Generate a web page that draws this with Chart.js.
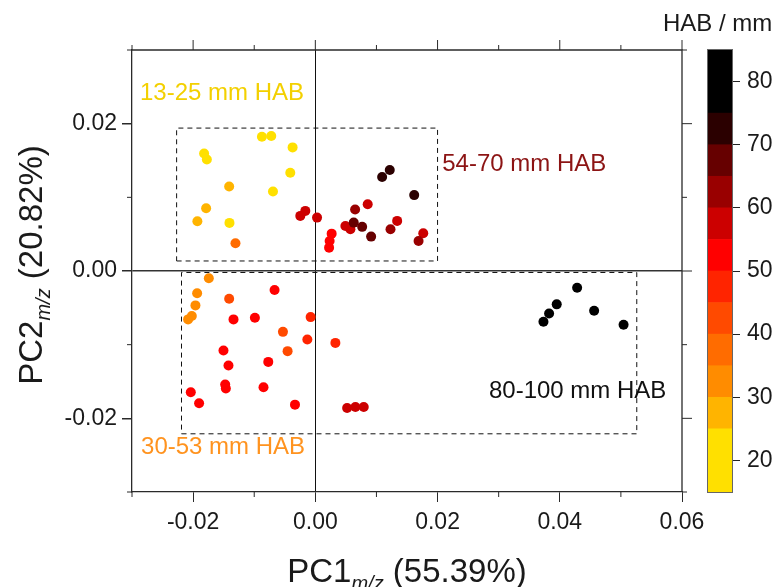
<!DOCTYPE html>
<html>
<head>
<meta charset="utf-8">
<script src="https://cdn.jsdelivr.net/npm/chart.js@4.4.1/dist/chart.umd.min.js"></script>
<style>
    html, body { margin: 0; padding: 0; background: #fff; }
    #wrap { position: relative; width: 778px; height: 587px; }
    canvas { position: absolute; left: 0; top: 0; }
</style>
</head>
<body>
<div id="wrap">
    <canvas id="pca-chart" width="778" height="587"></canvas>
    <canvas id="hab-bar" width="778" height="587"></canvas>
</div>
<script>
// PCA scores
const pc1 = [
    -0.00874, -0.00721, -0.00372, -0.0182, -0.01775, -0.0041, -0.00693, -0.01405,
    -0.0141, -0.01787, -0.0193, -0.01307,
    -0.00164, -0.00246, 0.00028, 0.00267, 0.00234, 0.00225, 0.00492, 0.00574,
    0.00651, 0.00857, 0.00628, 0.00766, 0.00913, 0.01093, 0.01218, 0.01618,
    0.01339, 0.0123, 0.01766, 0.01689,
    -0.01743, -0.01934, -0.01962, -0.02021, -0.02082, -0.0141, -0.00667, -0.01339,
    -0.00989, -0.00077, -0.0053, -0.00131, 0.00328, -0.01503, -0.00454, -0.01421,
    -0.0077, -0.01475, -0.01464, -0.00848, -0.02038, -0.01902, -0.00333,
    0.0052, 0.00656, 0.00792,
    0.04284, 0.0395, 0.03825, 0.03733, 0.04562, 0.05044
];
const pc2 = [
    0.01823, 0.01833, 0.01678, 0.01596, 0.01514, 0.01333, 0.01079, 0.00653,
    0.01147, 0.00853, 0.00676, 0.00377,
    0.00816, 0.00748, 0.00725, 0.00507, 0.00408, 0.00317, 0.00612, 0.00567,
    0.00834, 0.00907, 0.00657, 0.00599, 0.00467, 0.01275, 0.0137, 0.0103,
    0.0068, 0.00567, 0.00513, 0.00408,
    -0.00099, -0.00303, -0.00467, -0.00612, -0.00657, -0.00377, -0.00259, -0.00657,
    -0.00635, -0.00626, -0.00826, -0.00929, -0.00976, -0.01079, -0.01088, -0.01283,
    -0.01234, -0.01541, -0.01596, -0.01578, -0.01646, -0.01796, -0.01814,
    -0.0186, -0.01846, -0.01846,
    -0.00227, -0.00453, -0.00576, -0.0069, -0.0054, -0.0073
];
const hab = [
    20, 20, 20, 20, 20, 20, 20, 22,
    27, 27, 27, 37,
    57, 57, 57, 52, 52, 52, 57, 57,
    62, 57, 67, 67, 67, 72, 72, 72,
    57, 62, 57, 62,
    32, 34, 32, 32, 32, 42, 52, 52,
    52, 47, 42, 47, 47, 52, 42, 52,
    52, 52, 52, 52, 52, 52, 52,
    57, 57, 57,
    80, 85, 90, 90, 95, 100
];

const xTicks = [-0.02, 0, 0.02, 0.04, 0.06];
const yTicks = [-0.02, 0, 0.02];
const xMinor = [-0.03, -0.01, 0.01, 0.03, 0.05];
const yMinor = [-0.03, -0.01, 0.01, 0.03];

// dashed group boxes, in score units
const topBoxX = [-0.0227, 0.0200];
const topBoxY = [0.00136, 0.0194];
const bottomBoxX = [-0.0219, 0.0526];
const bottomBoxY = [-0.0221, -0.0002];

const groupNames = ['13-25 mm HAB', '54-70 mm HAB', '30-53 mm HAB', '80-100 mm HAB'];
const groupX = [-0.02869, 0.02077, -0.02852, 0.02841];
const groupY = [0.02408, 0.01452, -0.02395, -0.01629];

// colour bar bins (mm)
const bandLo = [15, 25, 30, 35, 40, 45, 50, 55, 60, 65, 70, 75];
const bandHi = [25, 30, 35, 40, 45, 50, 55, 60, 65, 70, 75, 85];
const cbTicks = [20, 30, 40, 50, 60, 70, 80];

const bandColors = ['#ffe000', '#ffb400', '#ff8c00', '#ff6c00', '#ff4a00', '#ff2400',
    '#ff0000', '#cc0000', '#990000', '#660000', '#2b0000', '#000000'];
const groupColors = ['#f3d000', '#8c1414', '#ff931f', '#111111'];

const FONT = 'Liberation Sans, Arial, sans-serif';
const INK = '#1a1a1a';
const FRAME = '#2a2a2a';

const habColor = v => {
    const i = bandHi.findIndex(h => v < h);
    return bandColors[i === -1 ? bandColors.length - 1 : i];
};

const rectDataset = (bx, by) => ({
    data: [
        { x: bx[0], y: by[0] }, { x: bx[1], y: by[0] },
        { x: bx[1], y: by[1] }, { x: bx[0], y: by[1] }, { x: bx[0], y: by[0] }
    ],
    showLine: true,
    borderColor: '#111',
    borderWidth: 1,
    borderDash: [5, 4],
    pointRadius: 0,
    fill: false
});

// draws "main" + italic subscript + "rest", centred on cx
const drawSubTitle = (ctx, main, sub, rest, cx, baseY, size) => {
    const big = `${size}px ${FONT}`;
    const small = `italic ${Math.round(size * 0.6)}px ${FONT}`;
    ctx.font = big;
    const w1 = ctx.measureText(main).width;
    const w3 = ctx.measureText(rest).width;
    ctx.font = small;
    const w2 = ctx.measureText(sub).width;
    let x = cx - (w1 + w2 + w3) / 2;
    ctx.textAlign = 'left';
    ctx.textBaseline = 'alphabetic';
    ctx.fillStyle = INK;
    ctx.font = big;
    ctx.fillText(main, x, baseY);
    x += w1;
    ctx.font = small;
    ctx.fillText(sub, x, baseY + size * 0.25);
    x += w2;
    ctx.font = big;
    ctx.fillText(rest, x, baseY);
};

const framePlugin = {
    id: 'frame',
    afterDraw(chart) {
        const { ctx, chartArea: a, scales: { x, y } } = chart;
        ctx.save();
        ctx.strokeStyle = FRAME;
        ctx.lineWidth = 1.3;
        ctx.beginPath();
        ctx.moveTo(a.left, a.top); ctx.lineTo(a.right, a.top); ctx.lineTo(a.right, a.bottom);
        ctx.stroke();

        ctx.lineWidth = 1;
        ctx.beginPath();
        xTicks.forEach(v => {
            const px = x.getPixelForValue(v);
            ctx.moveTo(px, a.top); ctx.lineTo(px, a.top - 10);
        });
        yTicks.forEach(v => {
            const py = y.getPixelForValue(v);
            ctx.moveTo(a.right, py); ctx.lineTo(a.right + 10, py);
        });
        xMinor.forEach(v => {
            const px = x.getPixelForValue(v);
            ctx.moveTo(px, a.bottom); ctx.lineTo(px, a.bottom + 5);
            ctx.moveTo(px, a.top); ctx.lineTo(px, a.top - 5);
        });
        yMinor.forEach(v => {
            const py = y.getPixelForValue(v);
            ctx.moveTo(a.left, py); ctx.lineTo(a.left - 5, py);
            ctx.moveTo(a.right, py); ctx.lineTo(a.right + 5, py);
        });
        ctx.stroke();

        // group labels
        ctx.font = `24px ${FONT}`;
        ctx.textAlign = 'left';
        ctx.textBaseline = 'middle';
        groupNames.forEach((t, i) => {
            ctx.fillStyle = groupColors[i];
            ctx.fillText(t, x.getPixelForValue(groupX[i]), y.getPixelForValue(groupY[i]));
        });

        // axis titles
        drawSubTitle(ctx, 'PC1', 'm/z', ' (55.39%)', (a.left + a.right) / 2, 582, 33);
        ctx.translate(42, 265);
        ctx.rotate(-Math.PI / 2);
        drawSubTitle(ctx, 'PC2', 'm/z', ' (20.82%)', 0, 0, 33);
        ctx.restore();
    }
};

new Chart(document.getElementById('pca-chart'), {
    type: 'scatter',
    data: {
        datasets: [
            {
                data: pc1.map((v, i) => ({ x: v, y: pc2[i] })),
                backgroundColor: hab.map(habColor),
                pointRadius: 5,
                pointHoverRadius: 5,
                pointBorderWidth: 0
            },
            rectDataset(topBoxX, topBoxY),
            rectDataset(bottomBoxX, bottomBoxY)
        ]
    },
    options: {
        responsive: false,
        animation: false,
        events: [],
        layout: { padding: { top: 50, right: 96, left: 0, bottom: 0 } },
        plugins: { legend: { display: false }, tooltip: { enabled: false } },
        scales: {
            x: {
                type: 'linear',
                min: -0.03,
                max: 0.06,
                afterFit: s => { s.height = 95; },
                afterBuildTicks: s => { s.ticks = xTicks.map(v => ({ value: v })); },
                grid: {
                    color: c => (c.tick && c.tick.value === 0 ? '#111' : 'rgba(0,0,0,0)'),
                    tickColor: FRAME,
                    tickLength: 10,
                    lineWidth: 1
                },
                border: { display: true, color: FRAME, width: 1.3 },
                ticks: {
                    font: { family: FONT, size: 23 },
                    color: INK,
                    padding: 7,
                    maxRotation: 0,
                    callback: v => v.toFixed(2)
                }
            },
            y: {
                type: 'linear',
                min: -0.03,
                max: 0.03,
                afterFit: s => { s.width = 132; },
                afterBuildTicks: s => { s.ticks = yTicks.map(v => ({ value: v })); },
                grid: {
                    color: c => (c.tick && c.tick.value === 0 ? '#333' : 'rgba(0,0,0,0)'),
                    tickColor: FRAME,
                    tickLength: 10,
                    lineWidth: 1.5
                },
                border: { display: true, color: FRAME, width: 1.3 },
                ticks: {
                    font: { family: FONT, size: 23 },
                    color: INK,
                    padding: 5,
                    callback: v => v.toFixed(2)
                }
            }
        }
    },
    plugins: [framePlugin]
});

const barPlugin = {
    id: 'barFrame',
    afterDraw(chart) {
        const { ctx, chartArea: a } = chart;
        ctx.save();
        ctx.strokeStyle = '#666';
        ctx.lineWidth = 1;
        ctx.strokeRect(a.left - 0.5, a.top - 0.5, a.right - a.left + 1, a.bottom - a.top + 1);
        ctx.fillStyle = INK;
        ctx.font = `24px ${FONT}`;
        ctx.textAlign = 'left';
        ctx.textBaseline = 'middle';
        ctx.fillText('HAB / mm', 663, 24);
        ctx.restore();
    }
};

new Chart(document.getElementById('hab-bar'), {
    type: 'bar',
    data: {
        labels: ['HAB'],
        datasets: bandLo.map((lo, i) => ({
            data: [[lo, bandHi[i]]],
            backgroundColor: bandColors[i],
            borderWidth: 0,
            grouped: false,
            barPercentage: 1,
            categoryPercentage: 1
        }))
    },
    options: {
        responsive: false,
        animation: false,
        events: [],
        layout: { padding: { left: 708, top: 50, bottom: 95, right: 0 } },
        plugins: { legend: { display: false }, tooltip: { enabled: false } },
        scales: {
            x: { display: false },
            y: {
                position: 'right',
                min: 15,
                max: 85,
                afterFit: s => { s.width = 46; },
                afterBuildTicks: s => { s.ticks = cbTicks.map(v => ({ value: v })); },
                grid: { drawOnChartArea: false, tickLength: 8, tickColor: '#222' },
                border: { display: false },
                ticks: { font: { family: FONT, size: 23 }, color: INK, padding: 7 }
            }
        }
    },
    plugins: [barPlugin]
});
</script>
</body>
</html>
